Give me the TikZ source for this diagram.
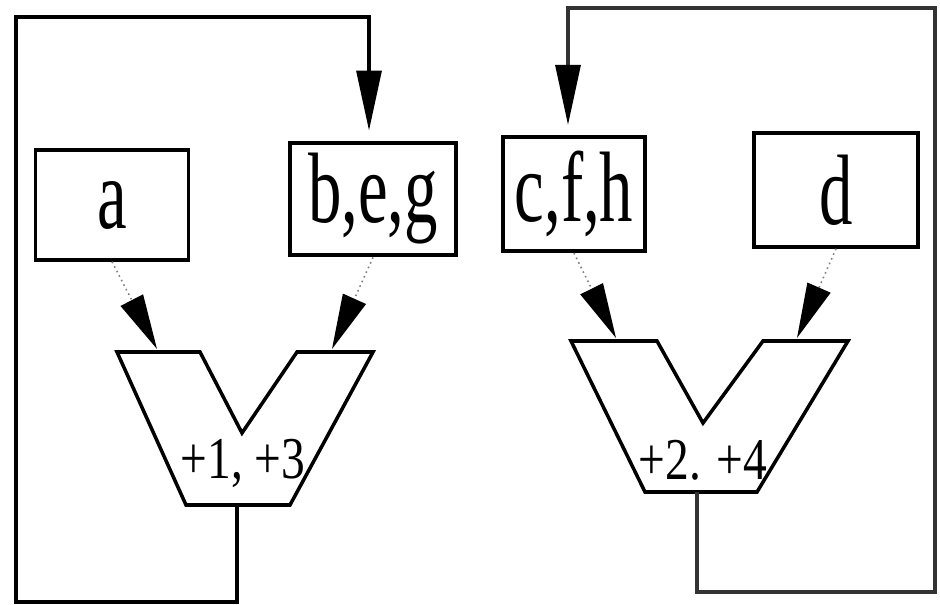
\documentclass[tikz,border=0pt]{standalone}
\usepackage{fontspec}
\setmainfont{Liberation Serif}
\usetikzlibrary{arrows.meta,positioning}
\newcommand{\tallt}[2][1.5]{\scalebox{1}[#1]{#2}}
\tikzset{
  reg/.style={draw, line width=2pt, inner sep=0pt, font=\fontsize{38}{40}\selectfont},
  feed/.style={line width=1.8pt, -{Triangle[length=1.2cm,width=0.5cm,color=black]}, shorten >=0.2cm},
  feedin/.style={dotted, gray, line width=0.9pt, -{Triangle[length=1.1cm,width=0.5cm,color=black]}},
  adder/.style={draw, line width=2pt, line join=miter},
  sumlbl/.style={inner sep=0pt, font=\fontsize{27}{29}\selectfont}
}
\begin{document}
\begin{tikzpicture}[x=0.02cm, y=-0.02cm]
  \useasboundingbox (0,0) rectangle (940,605);

  % registers
  \node[reg, minimum width=3.06cm, minimum height=2.2cm] (a) at (112,205) {\tallt{a}};
  \node[reg, line width=2.8pt, minimum width=3.32cm, minimum height=2.24cm] (bge) at (373,199) {\tallt{b,e,g}};
  \node[reg, line width=2.4pt, minimum width=2.84cm, minimum height=2.28cm] (cfh) at (574,194) {\tallt{c,f,h}};
  \node[reg, minimum width=3.28cm, minimum height=2.28cm] (d) at (836,190) {\tallt{d}};

  % left adder
  \draw[adder] (117,352) -- (200,352) -- (242,433) -- (297,352) -- (373,352)
    -- (290,505) -- (186,505) -- cycle;
  \coordinate (addA1) at (157,349);
  \coordinate (addA2) at (332,349);
  \coordinate (addAo) at (237,505);
  \node[sumlbl] (sumA) at (243,463) {\tallt[1.25]{+1, +3}};

  % right adder
  \draw[adder] (571,341) -- (657,341) -- (703,423) -- (763,341) -- (848,341)
    -- (757,492) -- (645,492) -- cycle;
  \coordinate (addB1) at (616,338);
  \coordinate (addB2) at (797,338);
  \coordinate (addBo) at (697,492);
  \node[sumlbl] (sumB) at (703,460) {\tallt[1.25]{+2. +4}};

  % inputs
  \draw[feedin] (a.south) -- (addA1);
  \draw[feedin] (bge.south) -- (addA2);
  \draw[feedin] (cfh.south) -- (addB1);
  \draw[feedin] (d.south) -- (addB2);

  % feedback loops
  \draw[feed] (addAo) -- (237,602) -| (16,17) -| ([xshift=-0.08cm]bge.north);
  \draw[feed, gray!40!black] (addBo) -- (697,592) -| (935,8) -| ([xshift=-0.12cm]cfh.north);
\end{tikzpicture}
\end{document}
